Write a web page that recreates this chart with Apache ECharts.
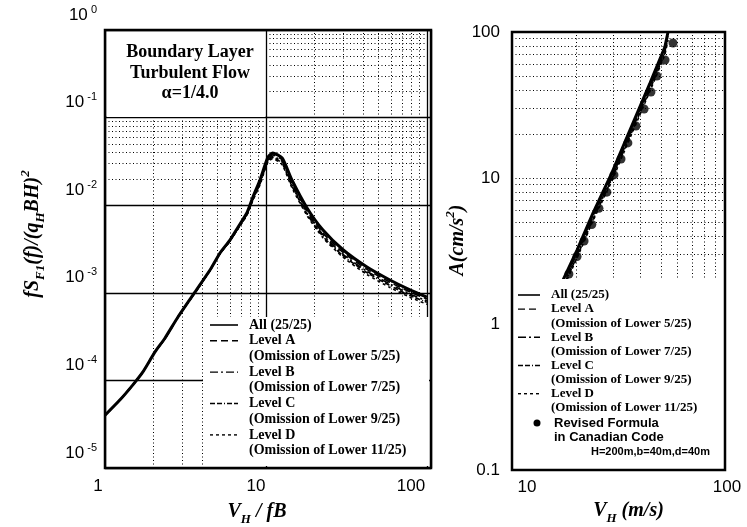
<!DOCTYPE html>
<html>
<head>
<meta charset="utf-8">
<script src="https://cdn.jsdelivr.net/npm/echarts@6/dist/echarts.min.js"></script>
<style>html,body{margin:0;padding:0;background:#fff}#chart{width:747px;height:527px}</style>
</head>
<body>
<div id="chart"></div>
<script>
// left panel: normalised spectrum vs reduced velocity V_H / fB
var vfb = [1.0, 1.24, 1.49, 1.72, 2.04, 2.36, 2.84, 3.62, 4.49, 5.18, 5.97, 6.70, 7.62, 8.30, 9.18, 9.72, 10.3, 11.0, 12.6, 14.5, 18.0, 22.6, 30.1, 42.4, 58.9, 78.4, 100];
var specAll = [4.0e-5, 6.0e-5, 8.9e-5, 1.25e-4, 2.1e-4, 3.05e-4, 5.3e-4, 1.02e-3, 1.82e-3, 2.85e-3, 4.0e-3, 5.6e-3, 8.2e-3, 1.24e-2, 1.94e-2, 2.66e-2, 3.55e-2, 3.94e-2, 3.46e-2, 1.94e-2, 9.3e-3, 5.2e-3, 3.1e-3, 1.97e-3, 1.40e-3, 1.08e-3, 8.9e-4];
var specA = [4.0e-5, 6.0e-5, 8.9e-5, 1.25e-4, 2.1e-4, 3.0e-4, 5.3e-4, 1.0e-3, 1.8e-3, 2.8e-3, 3.9e-3, 5.5e-3, 8.0e-3, 1.2e-2, 1.85e-2, 2.55e-2, 3.4e-2, 3.75e-2, 3.3e-2, 1.8e-2, 8.6e-3, 4.8e-3, 2.9e-3, 1.85e-3, 1.32e-3, 1.02e-3, 8.5e-4];
var specB = [4.0e-5, 6.0e-5, 8.9e-5, 1.25e-4, 2.1e-4, 3.0e-4, 5.3e-4, 1.0e-3, 1.8e-3, 2.8e-3, 3.9e-3, 5.45e-3, 7.9e-3, 1.18e-2, 1.8e-2, 2.5e-2, 3.3e-2, 3.6e-2, 3.15e-2, 1.72e-2, 8.2e-3, 4.6e-3, 2.75e-3, 1.76e-3, 1.26e-3, 9.7e-4, 8.1e-4];
var specC = [4.0e-5, 6.0e-5, 8.9e-5, 1.25e-4, 2.1e-4, 3.0e-4, 5.3e-4, 1.0e-3, 1.8e-3, 2.8e-3, 3.9e-3, 5.4e-3, 7.8e-3, 1.16e-2, 1.75e-2, 2.42e-2, 3.2e-2, 3.5e-2, 3.0e-2, 1.65e-2, 7.9e-3, 4.4e-3, 2.65e-3, 1.70e-3, 1.21e-3, 9.3e-4, 7.8e-4];
var specD = [4.0e-5, 6.0e-5, 8.9e-5, 1.25e-4, 2.1e-4, 3.0e-4, 5.3e-4, 1.0e-3, 1.8e-3, 2.8e-3, 3.9e-3, 5.35e-3, 7.7e-3, 1.14e-2, 1.7e-2, 2.35e-2, 3.1e-2, 3.4e-2, 2.9e-2, 1.58e-2, 7.6e-3, 4.25e-3, 2.55e-3, 1.62e-3, 1.15e-3, 8.9e-4, 7.4e-4];

// right panel: acceleration vs wind speed
var vh = [17.2, 20.2, 24.0, 29.4, 35.8, 44.5, 52.2, 54.0];
var accAll = [1.94, 3.21, 5.75, 10.8, 21.3, 44.8, 78.9, 100];
var accA = [1.85, 3.05, 5.5, 10.3, 20.3, 42.8, 75.5, 95.5];
var accB = [1.8, 2.98, 5.35, 10.0, 19.8, 41.7, 73.4, 93.0];
var accC = [1.75, 2.9, 5.2, 9.8, 19.3, 40.6, 71.6, 90.7];
var accD = [1.7, 2.83, 5.1, 9.5, 18.8, 39.5, 69.7, 88.3];
var vhDots = [18.5, 20.2, 21.8, 23.7, 25.6, 27.9, 30.1, 32.5, 35.0, 38.2, 41.7, 44.9, 47.9, 52.3, 57.0];
var accDots = [2.2, 2.9, 3.7, 4.8, 6.2, 8.0, 10.5, 13.5, 17.4, 22.7, 29.7, 38.8, 50.0, 64.3, 84.1];

var legendNames = ['All (25/25)', 'Level A', 'Level B', 'Level C', 'Level D'];
var legendNotes = ['', '(Omission of Lower 5/25)', '(Omission of Lower 7/25)', '(Omission of Lower 9/25)', '(Omission of Lower 11/25)'];
var dashes = ['solid', [7, 4], [8, 3, 2, 3], [5, 2, 5, 2, 1, 2], [3, 3]];
var widths = [3, 1.6, 1.6, 1.6, 1.6];

function pairs(xs, ys) {
  return xs.map(function (x, i) { return [x, ys[i]]; });
}

function isPow10(v) {
  var e = Math.log10(v);
  return Math.abs(e - Math.round(e)) < 0.01;
}

// dotted minor grid at 2..9 of each decade
function minorLines(decades, key) {
  var out = [];
  decades.forEach(function (d) {
    for (var m = 2; m <= 9; m++) {
      var o = {};
      o[key] = m * d;
      out.push(o);
    }
  });
  return out;
}

function gridSeries(idx, xDec, yDec) {
  return {
    type: 'line', xAxisIndex: idx, yAxisIndex: idx, data: [], silent: true, z: 0,
    markLine: {
      silent: true, symbol: ['none', 'none'], label: { show: false },
      lineStyle: { type: [1, 2.5], color: '#000', width: 1 },
      emphasis: { disabled: true },
      data: minorLines(xDec, 'xAxis').concat(minorLines(yDec, 'yAxis'))
    }
  };
}

var chart = echarts.init(document.getElementById('chart'));

var specSets = [specAll, specA, specB, specC, specD];
var accSets = [accAll, accA, accB, accC, accD];
var series = [gridSeries(0, [1, 10], [1e-5, 1e-4, 1e-3, 1e-2, 1e-1]), gridSeries(1, [10], [0.1, 1, 10])];
for (var i = 0; i < 5; i++) {
  series.push({
    name: legendNames[i], type: 'line', xAxisIndex: 0, yAxisIndex: 0, z: 10,
    data: pairs(vfb, specSets[i]), symbol: 'none', smooth: 0.2,
    lineStyle: { color: '#000', width: widths[i], type: dashes[i] }
  });
  series.push({
    name: legendNames[i], type: 'line', xAxisIndex: 1, yAxisIndex: 1, z: 10,
    data: pairs(vh, accSets[i]), symbol: 'none',
    lineStyle: { color: '#000', width: widths[i], type: dashes[i] }
  });
}
series.push({
  name: 'Revised Formula in Canadian Code', type: 'scatter', xAxisIndex: 1, yAxisIndex: 1, z: 11,
  data: pairs(vhDots, accDots), symbol: 'circle', symbolSize: 9,
  itemStyle: { color: '#000' }
});

var serif = '"Liberation Serif", "Times New Roman", serif';
var sans = '"Liberation Sans", Arial, sans-serif';

// legend and annotation boxes
var graphics = [
  { type: 'rect', z: 100, shape: { x: 107, y: 32, width: 158, height: 85 }, style: { fill: '#fff' } },
  { type: 'rect', z: 100, shape: { x: 203, y: 317, width: 226, height: 149 }, style: { fill: '#fff' } },
  { type: 'rect', z: 100, shape: { x: 514, y: 279, width: 209, height: 189 }, style: { fill: '#fff' } }
];
[['Boundary Layer', 52], ['Turbulent Flow', 73], ['\u03b1=1/4.0', 93]].forEach(function (t) {
  graphics.push({ type: 'text', z: 101, x: 190, y: t[1],
    style: { text: t[0], font: 'bold 18px ' + serif, fill: '#000', align: 'center', verticalAlign: 'middle' } });
});

function addLegend(x1, x2, tx, y0, step, fontSize) {
  var row = 0;
  for (var k = 0; k < 5; k++) {
    var y = y0 + row * step;
    graphics.push({ type: 'line', z: 101, shape: { x1: x1, y1: y, x2: x2, y2: y },
      style: { stroke: '#000', lineWidth: k === 0 ? 1.6 : 1.4, lineDash: k === 0 ? null : dashes[k] } });
    graphics.push({ type: 'text', z: 101, x: tx, y: y,
      style: { text: legendNames[k], font: 'bold ' + fontSize + 'px ' + serif, fill: '#000', verticalAlign: 'middle' } });
    row++;
    if (legendNotes[k]) {
      graphics.push({ type: 'text', z: 101, x: tx, y: y0 + row * step,
        style: { text: legendNotes[k], font: 'bold ' + fontSize + 'px ' + serif, fill: '#000', verticalAlign: 'middle' } });
      row++;
    }
  }
}
addLegend(210, 238, 249, 325, 15.7, 14);
addLegend(518, 540, 551, 295, 14.1, 13);
graphics.push({ type: 'circle', z: 101, shape: { cx: 537, cy: 423, r: 3.5 }, style: { fill: '#000' } });
graphics.push({ type: 'text', z: 101, x: 554, y: 423, style: { text: 'Revised Formula', font: 'bold 13px ' + sans, fill: '#000', verticalAlign: 'middle' } });
graphics.push({ type: 'text', z: 101, x: 554, y: 437, style: { text: 'in Canadian Code', font: 'bold 13px ' + sans, fill: '#000', verticalAlign: 'middle' } });
graphics.push({ type: 'text', z: 101, x: 591, y: 452, style: { text: 'H=200m,b=40m,d=40m', font: 'bold 11px ' + sans, fill: '#000', verticalAlign: 'middle' } });

var titleRich = {
  m: { fontFamily: serif, fontWeight: 'bold', fontStyle: 'italic', fontSize: 20, lineHeight: 28, color: '#000' },
  sb: { fontFamily: serif, fontWeight: 'bold', fontStyle: 'italic', fontSize: 13, lineHeight: 13, verticalAlign: 'bottom', color: '#000' },
  sp: { fontFamily: serif, fontWeight: 'bold', fontStyle: 'italic', fontSize: 13, lineHeight: 13, verticalAlign: 'top', color: '#000' }
};

var supRich = {
  b: { fontFamily: sans, fontSize: 17, lineHeight: 22, color: '#000' },
  s: { fontFamily: sans, fontSize: 11, lineHeight: 11, verticalAlign: 'top', color: '#000' }
};

var option = {
  animation: false,
  backgroundColor: '#fff',
  grid: [
    { left: 105, right: 316, top: 30, bottom: 59, show: true, borderColor: '#000', borderWidth: 2.5, backgroundColor: '#fff', outerBoundsMode: 'none' },
    { left: 512, right: 22, top: 32, bottom: 57, show: true, borderColor: '#000', borderWidth: 2.5, backgroundColor: '#fff', outerBoundsMode: 'none' }
  ],
  xAxis: [
    {
      type: 'log', gridIndex: 0, min: 1, max: 106, logBase: 10,
      axisLine: { show: false }, axisTick: { show: false },
      splitLine: { show: true, lineStyle: { color: '#000', width: 1.3, type: 'solid' } },
      axisLabel: {
        margin: 10,
        formatter: function (v) {
          if (!isPow10(v)) return '';
          var e = Math.round(Math.log10(v));
          return '{l' + e + '|' + Math.pow(10, e) + '}';
        },
        rich: {
          l0: { fontFamily: sans, fontSize: 17, color: '#000', padding: [0, 14, 0, 0] },
          l1: { fontFamily: sans, fontSize: 17, color: '#000', padding: [0, 20, 0, 0] },
          l2: { fontFamily: sans, fontSize: 17, color: '#000', padding: [0, 32, 0, 0] }
        }
      },
      name: '{m|V}{sb|H}{m| / fB}', nameLocation: 'middle', nameGap: 30,
      nameTextStyle: { rich: titleRich, padding: [0, 22, 0, 0] }
    },
    {
      type: 'log', gridIndex: 1, min: 10, max: 100, logBase: 10,
      axisLine: { show: false }, axisTick: { show: false },
      splitLine: { show: true, lineStyle: { color: '#000', width: 1, type: [1, 2.5] } },
      axisLabel: {
        margin: 9,
        formatter: function (v) {
          if (!isPow10(v)) return '';
          var e = Math.round(Math.log10(v));
          return '{r' + e + '|' + Math.pow(10, e) + '}';
        },
        rich: {
          r1: { fontFamily: sans, fontSize: 17, color: '#000', padding: [0, 0, 0, 30] },
          r2: { fontFamily: sans, fontSize: 17, color: '#000', padding: [0, 0, 0, 4] }
        }
      },
      name: '{m|V}{sb|H}{m| (m/s)}', nameLocation: 'middle', nameGap: 18,
      nameTextStyle: { rich: titleRich, padding: [0, 0, 0, 20] }
    }
  ],
  yAxis: [
    {
      type: 'log', gridIndex: 0, min: 1e-5, max: 1, logBase: 10,
      axisLine: { show: false }, axisTick: { show: false },
      splitLine: { show: true, lineStyle: { color: '#000', width: 1.3, type: 'solid' } },
      axisLabel: {
        margin: 8, verticalAlign: 'bottom', padding: [0, 0, 4, 0],
        formatter: function (v) {
          if (!isPow10(v)) return '';
          var e = Math.round(Math.log10(v));
          return '{b|10}{s| ' + e + '}';
        },
        rich: supRich
      },
      name: '{m|fS}{sb|F1}{m|(f)/(q}{sb|H}{m|BH)}{sp|2}', nameLocation: 'middle', nameGap: 58, nameRotate: 90,
      nameTextStyle: { rich: titleRich, padding: [0, 0, 0, 30] }
    },
    {
      type: 'log', gridIndex: 1, min: 0.1, max: 100, logBase: 10,
      axisLine: { show: false }, axisTick: { show: false },
      splitLine: { show: true, lineStyle: { color: '#000', width: 1, type: [1, 2.5] } },
      axisLabel: {
        margin: 12, padding: [0, 0, 10, 0],
        formatter: function (v) {
          if (!isPow10(v)) return '';
          var e = Math.round(Math.log10(v));
          return e < 0 ? '0.1' : String(Math.pow(10, e));
        },
        fontFamily: sans, fontSize: 17, color: '#000'
      },
      name: '{m|A(cm/s}{sp|2}{m|)}', nameLocation: 'middle', nameGap: 27, nameRotate: 90,
      nameTextStyle: { rich: titleRich, padding: [0, 0, 0, 22] }
    }
  ],
  graphic: { elements: graphics },
  series: series
};

chart.setOption(option);
</script>
</body>
</html>
